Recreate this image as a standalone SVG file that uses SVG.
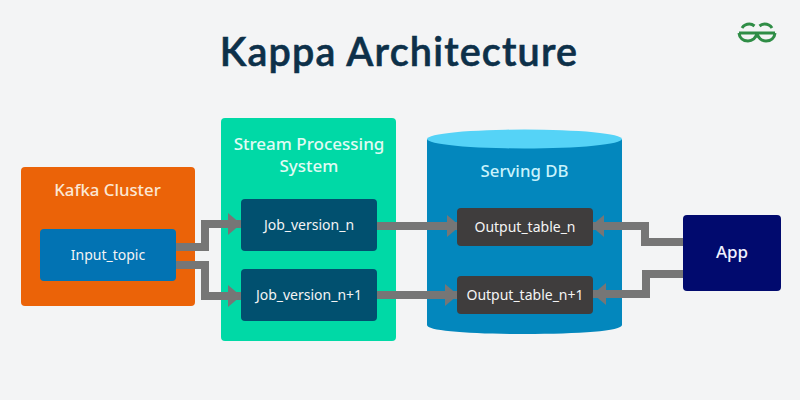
<svg xmlns="http://www.w3.org/2000/svg" width="800" height="400" viewBox="0 0 800 400">
<defs>
<style>
text{font-family:"Noto Sans","Open Sans",sans-serif;text-anchor:middle}
.h{font-size:17px;font-weight:500}
.l{font-size:14px;fill:#f4f4f4}
.c{fill:none;stroke:#767676;stroke-width:8}
</style>
<marker id="a" markerUnits="userSpaceOnUse" markerWidth="14" markerHeight="22" refX="13" refY="11" orient="auto"><path d="M0 0L13 11L0 22Z" fill="#767676"/></marker>
</defs>
<rect width="800" height="400" fill="#f3f4f5"/>
<g id="title"><text x="399" y="66" style="font-family:Lato,sans-serif;font-size:39.500px;font-weight:600;letter-spacing:1.200px;stroke:#0d3049;stroke-width:.6px" fill="#0d3049">Kappa Architecture</text></g>
<g id="logo" fill="none" stroke="#2f8d46" stroke-width="3">
<path d="M739 33H775"/>
<path d="M742 28C744 25 747 24 749.500 24C751.500 24 753 24.800 754.500 26M757 33C756.500 38 752 41 748 41C743 41 739.500 38 739 33"/>
<path d="M772 28C770 25 767 24 764.500 24C762.500 24 761 24.800 759.500 26M757 33C757.500 38 762 41 766 41C771 41 774.500 38 775 33"/>
</g>
<g id="kafka"><rect x="21" y="167" width="174" height="139" rx="4" fill="#eb6308"/><text class="h" x="107.500" y="196" style="font-size:16.800px" fill="#fbe7d4">Kafka Cluster</text></g>
<g id="stream"><rect x="221" y="118" width="175" height="223" rx="4" fill="#00d9a6"/><text class="h" x="309" y="150" fill="#e0fbf4">Stream Processing</text><text class="h" x="309" y="172" fill="#e0fbf4">System</text></g>
<g id="db"><path d="M427 139V325C427 331 470 334 524.500 334C579 334 622 331 622 325V139Z" fill="#0387bd"/><ellipse cx="524.500" cy="139" rx="97.500" ry="9.500" fill="#55d3f7"/><text class="h" x="524.500" y="177" style="font-size:16.800px" fill="#c9f3fc">Serving DB</text></g>
<g id="connectors">
<path class="c" d="M176 247H205V224H241" marker-end="url(#a)"/>
<path class="c" d="M176 265H205V296H241" marker-end="url(#a)"/>
<path class="c" d="M377 226H460" marker-end="url(#a)"/>
<path class="c" d="M377 295H458" marker-end="url(#a)"/>
<path class="c" d="M683 242H645V226H591" marker-end="url(#a)"/>
<path class="c" d="M683 274H646V294H593" marker-end="url(#a)"/>
</g>
<g id="input"><rect x="40" y="229" width="136" height="52" rx="4" fill="#0273b3"/><text class="l" x="108" y="260">Input_topic</text></g>
<g id="job-n"><rect x="241" y="199" width="136" height="52" rx="4" fill="#01506f"/><text class="l" x="309" y="230">Job_version_n</text></g>
<g id="job-n1"><rect x="241" y="269" width="136" height="52" rx="4" fill="#01506f"/><text class="l" x="309" y="300">Job_version_n+1</text></g>
<g id="out-n"><rect x="457" y="208" width="136" height="38" rx="4" fill="#3f3d3d"/><text class="l" x="525" y="232">Output_table_n</text></g>
<g id="out-n1"><rect x="457" y="276" width="136" height="38" rx="4" fill="#3f3d3d"/><text class="l" x="525" y="300">Output_table_n+1</text></g>
<g id="app"><rect x="683" y="215" width="98" height="76" rx="4" fill="#010a6e"/><text class="h" x="732" y="258" fill="#f0f2ff">App</text></g>
</svg>
